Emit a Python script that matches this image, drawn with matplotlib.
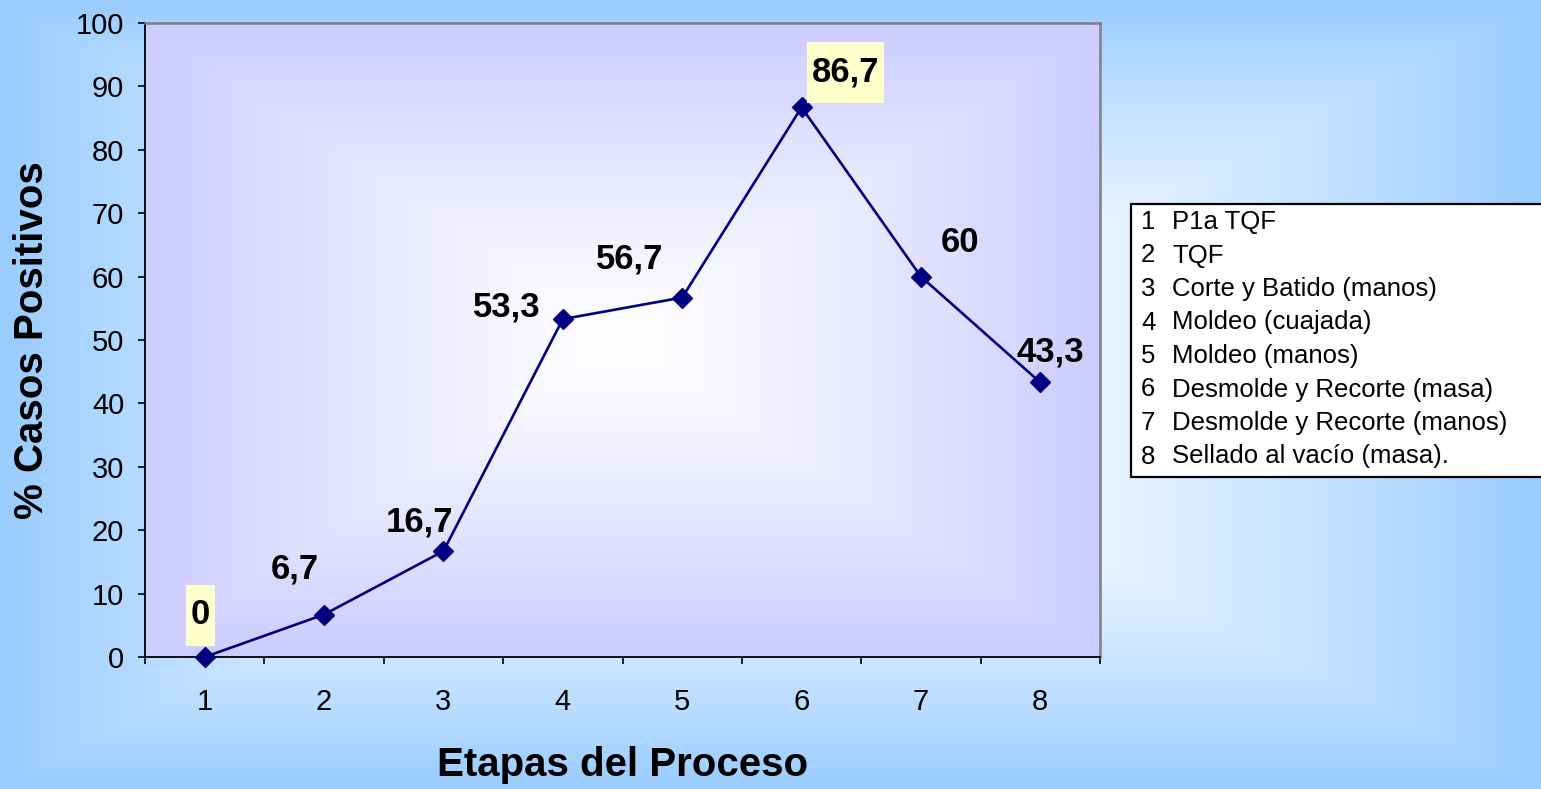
import numpy as np
import matplotlib
matplotlib.use("Agg")
import matplotlib.pyplot as plt
from matplotlib.path import Path
from matplotlib.patches import Rectangle

plt.rcParams['font.family'] = ['Liberation Sans', 'DejaVu Sans']

# ---- data ----
etapas = [1, 2, 3, 4, 5, 6, 7, 8]
porcentaje = [0, 6.7, 16.7, 53.3, 56.7, 86.7, 60, 43.3]
destacados = [0, 5]  # labels with yellow background
# label offsets (pixels) relative to each point
label_dx = [-4, -29, -24, -56, -53, 44, 39, 10]
label_dy = [42, 46, 29, 12, 39, 35, 34, 30]
y_ticks = [0, 10, 20, 30, 40, 50, 60, 70, 80, 90, 100]
leyenda_num = ['1', '2', '3', '4', '5', '6', '7', '8']
leyenda_txt = ['P1a TQF', 'TQF', 'Corte y Batido (manos)', 'Moldeo (cuajada)',
               'Moldeo (manos)', 'Desmolde y Recorte (masa)',
               'Desmolde y Recorte (manos)', 'Sellado al vacío (masa).']

W, H = 1541, 789
fig = plt.figure(figsize=(W / 100, H / 100), dpi=100)


def rect_gradient(nx, ny, c_center, c_edge, power=1.0):
    x = np.linspace(-1, 1, nx)
    y = np.linspace(-1, 1, ny)
    X, Y = np.meshgrid(x, y)
    t = np.maximum(np.abs(X), np.abs(Y)) ** power
    cc = np.array(matplotlib.colors.to_rgb(c_center))
    ce = np.array(matplotlib.colors.to_rgb(c_edge))
    return cc[None, None, :] * (1 - t[..., None]) + ce[None, None, :] * t[..., None]


# figure background gradient
bg = fig.add_axes([0, 0, 1, 1], zorder=-10)
bg.imshow(rect_gradient(400, 200, '#FFFFFF', '#99CCFF', 1.7), aspect='auto',
          extent=[0, 1, 0, 1], interpolation='bilinear')
bg.set_axis_off()

ax = fig.add_axes([145 / W, 1 - 657 / H, 955 / W, 634 / H])
ax.set_xlim(0.5, 8.5)
ax.set_ylim(0, 100)
ax.imshow(rect_gradient(300, 200, '#FFFFFF', '#CCCCFF', 1.2), aspect='auto',
          extent=[0.5, 8.5, 0, 100], interpolation='bilinear', zorder=0)

ax.plot(etapas, porcentaje, color='#000080', lw=1.9, marker='D', ms=10.5,
        mfc='#000080', mec='#000080', zorder=3, clip_on=False)


def make_box(padx, pady):
    def box(x0, y0, width, height, mutation_size):
        xa, ya = x0 - padx, y0 - pady
        xb, yb = x0 + width + padx, y0 + height + pady
        return Path([(xa, ya), (xb, ya), (xb, yb), (xa, yb), (xa, ya)], closed=True)
    return box


for i, (x, v) in enumerate(zip(etapas, porcentaje)):
    txt = ('%g' % v).replace('.', ',')
    kw = {}
    if i in destacados:
        kw['bbox'] = dict(boxstyle=make_box(5, 14), fc='#FFFFCC', ec='none')
    ax.annotate(txt, (x, v), xytext=(label_dx[i], label_dy[i]),
                textcoords='offset pixels', ha='center', va='center',
                fontsize=25, fontweight='bold', color='black', zorder=5, **kw)

ax.set_yticks(y_ticks)
ax.set_xticks(etapas)
ax.set_xticks(np.arange(0.5, 9, 1), minor=True)
ax.tick_params(axis='y', which='major', length=5, width=1.2, direction='out',
               labelsize=21, pad=10)
ax.tick_params(axis='x', which='major', length=0, labelsize=21, pad=22)
ax.tick_params(axis='x', which='minor', length=5, width=1.2, direction='out')

for s in ['left', 'bottom']:
    ax.spines[s].set_color('black')
    ax.spines[s].set_linewidth(1.3)
for s in ['top', 'right']:
    ax.spines[s].set_color('#808080')
    ax.spines[s].set_linewidth(1.8)

ax.set_xlabel('Etapas del Proceso', fontsize=29, fontweight='bold')
ax.set_ylabel('% Casos Positivos', fontsize=29, fontweight='bold')
ax.xaxis.label.set_va('center')
ax.yaxis.label.set_va('center')
ax.xaxis.set_label_coords(0.5, -(765 - 657) / 634)
ax.yaxis.set_label_coords((32 - 145) / 955, 0.5)

# legend-like text box
fig.patches.append(Rectangle((1131 / W, 1 - 477 / H), (1560 - 1131) / W, (477 - 204) / H,
                             transform=fig.transFigure, fc='white', ec='black',
                             lw=1.6, zorder=5))
for k, (n, t) in enumerate(zip(leyenda_num, leyenda_txt)):
    yy = 1 - (222 + k * 33.5) / H
    fig.text(1141 / W, yy, n, fontsize=18.5, va='center', ha='left', zorder=6)
    fig.text(1172 / W, yy, t, fontsize=18.5, va='center', ha='left', zorder=6)

fig.savefig('out.png', dpi=100)
